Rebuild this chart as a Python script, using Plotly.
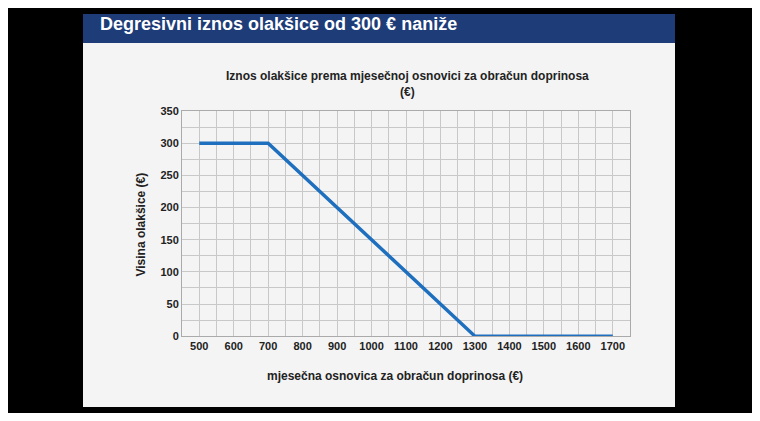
import plotly.graph_objects as go

osnovica = [500, 700, 1300, 1700]
olaksica = [300, 300, 0, 0]
x_ticks = [500, 600, 700, 800, 900, 1000, 1100, 1200, 1300, 1400, 1500, 1600, 1700]
y_ticks = [0, 50, 100, 150, 200, 250, 300, 350]

W, H = 744, 405
O = 8  # page body margin offset
def px(x): return (x - O) / W
def py(y): return 1 - (y - O) / H

fig = go.Figure(go.Scatter(x=osnovica, y=olaksica, mode="lines",
                           line=dict(color="#1f6fbf", width=3.5)))

fnt = dict(family="Liberation Sans, Arial", color="#222")
tf = dict(size=11, weight="bold", **fnt)
fig.update_layout(
    width=W, height=H, margin=dict(l=0, r=0, t=0, b=0),
    paper_bgcolor="black", plot_bgcolor="white", showlegend=False,
    xaxis=dict(domain=[px(182), px(630)], range=[450, 1750], tickvals=x_ticks,
               showgrid=True, gridcolor="#c8c8c8", gridwidth=1,
               minor=dict(dtick=50, showgrid=True, gridcolor="#c8c8c8"),
               zeroline=False, showline=True, linecolor="#aaa", mirror=True,
               tickfont=tf, ticks=""),
    yaxis=dict(domain=[py(340), py(108)], range=[0, 350], tickvals=y_ticks,
               showgrid=True, gridcolor="#c8c8c8",
               minor=dict(dtick=25, showgrid=True, gridcolor="#c8c8c8"),
               zeroline=False, showline=True, linecolor="#aaa", mirror=True,
               tickfont=tf, ticks=""),
    shapes=[
        dict(type="rect", xref="paper", yref="paper", x0=px(83), x1=px(675), y0=0, y1=1,
             fillcolor="#f4f4f4", line_width=0, layer="below"),
        dict(type="rect", xref="paper", yref="paper", x0=px(83), x1=px(675), y0=py(38), y1=1,
             fillcolor="#1d3c78", line_width=0, layer="below"),
    ],
    annotations=[
        dict(text="<b>Degresivni iznos olakšice od 300 € naniže</b>", xref="paper", yref="paper",
             x=px(98), y=py(18), xanchor="left", yanchor="middle", showarrow=False,
             font=dict(size=18, family="Liberation Sans, Arial", color="white")),
        dict(text="<b>Iznos olakšice prema mjesečnoj osnovici za obračun doprinosa<br>(€)</b>",
             xref="paper", yref="paper", x=px(407), y=py(80), xanchor="center", yanchor="middle",
             showarrow=False, font=dict(size=12, **fnt)),
        dict(text="<b>Visina olakšice (€)</b>", xref="paper", yref="paper", x=px(141), y=py(225),
             textangle=-90, xanchor="center", yanchor="middle", showarrow=False,
             font=dict(size=12, **fnt)),
        dict(text="<b>mjesečna osnovica za obračun doprinosa (€)</b>", xref="paper", yref="paper",
             x=px(395), y=py(381), xanchor="center", yanchor="middle", showarrow=False,
             font=dict(size=12, **fnt)),
    ],
)
fig.write_html("out.html")
